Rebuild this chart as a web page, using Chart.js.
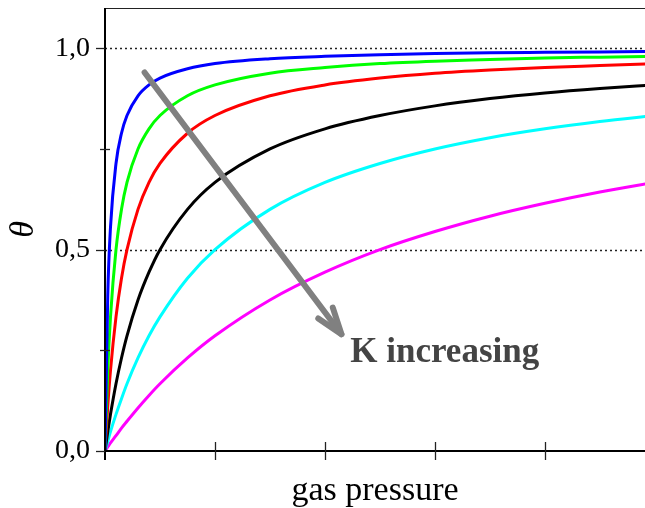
<!DOCTYPE html>
<html>
<head>
<meta charset="utf-8">
<script src="https://cdn.jsdelivr.net/npm/chart.js@4.4.1/dist/chart.umd.min.js"></script>
<style>
  html, body { margin: 0; padding: 0; background: #fff; }
  #isotherm { display: block; }
</style>
</head>
<body>
<canvas id="isotherm" width="645" height="508"></canvas>
<script>
// pressure samples shared by every isotherm
const pressure = [0, 0.025, 0.05, 0.1, 0.15, 0.2, 0.3, 0.4, 0.5, 0.75, 1, 1.5, 2, 2.5, 3, 3.5, 4, 4.5, 5];

// fractional coverage, one list per curve (largest K first)
const coverBlue    = [0, 0.385, 0.556, 0.714, 0.789, 0.833, 0.882, 0.909, 0.926, 0.949, 0.962, 0.974, 0.98, 0.984, 0.987, 0.989, 0.99, 0.991, 0.992];
const coverGreen   = [0, 0.2, 0.333, 0.5, 0.6, 0.667, 0.75, 0.8, 0.833, 0.882, 0.909, 0.938, 0.952, 0.962, 0.968, 0.972, 0.976, 0.978, 0.98];
const coverRed     = [0, 0.111, 0.2, 0.333, 0.429, 0.5, 0.6, 0.667, 0.714, 0.789, 0.833, 0.882, 0.909, 0.926, 0.938, 0.946, 0.952, 0.957, 0.962];
const coverBlack   = [0, 0.048, 0.091, 0.167, 0.231, 0.286, 0.375, 0.444, 0.5, 0.6, 0.667, 0.75, 0.8, 0.833, 0.857, 0.875, 0.889, 0.9, 0.909];
const coverCyan    = [0, 0.024, 0.048, 0.091, 0.13, 0.167, 0.231, 0.286, 0.333, 0.429, 0.5, 0.6, 0.667, 0.714, 0.75, 0.778, 0.8, 0.818, 0.833];
const coverMagenta = [0, 0.01, 0.02, 0.038, 0.057, 0.074, 0.107, 0.138, 0.167, 0.231, 0.286, 0.375, 0.444, 0.5, 0.545, 0.583, 0.615, 0.643, 0.667];

const curveColors = ['#0000ff', '#00ff00', '#ff0000', '#000000', '#00ffff', '#ff00ff'];

const yTicks = [0, 0.25, 0.5, 0.75, 1];
const yTickLabels = ['0,0', '', '0,5', '', '1,0'];
const xTicks = [0, 1, 2, 3, 4];
const dottedLevels = [0.5, 1];

// arrow "K increasing", in data units
const arrowFrom = { x: 0.36, y: 0.94 };
const arrowTo = { x: 2.15, y: 0.29 };
const arrowText = { x: 2.23, y: 0.221, text: 'K increasing' };

const serif = '"Liberation Serif", "Times New Roman", serif';

function toPoints(ys) {
  return pressure.map((p, i) => ({ x: p, y: ys[i] }));
}

function seg(ctx, x1, y1, x2, y2) {
  ctx.beginPath();
  ctx.moveTo(x1, y1);
  ctx.lineTo(x2, y2);
  ctx.stroke();
}

const framePlugin = {
  id: 'frame',
  beforeDatasetsDraw(chart) {
    const { ctx, chartArea: a, scales: { y } } = chart;
    ctx.save();
    ctx.strokeStyle = '#222';
    ctx.lineWidth = 1.3;
    ctx.setLineDash([2, 3]);
    dottedLevels.forEach(v => {
      const py = Math.round(y.getPixelForValue(v)) + 0.5;
      seg(ctx, a.left, py, a.right, py);
    });
    ctx.restore();
  },
  afterDatasetsDraw(chart) {
    const { ctx, chartArea: a, scales: { x, y } } = chart;
    ctx.save();

    // top edge of the frame
    ctx.strokeStyle = '#222';
    ctx.lineWidth = 1.2;
    seg(ctx, a.left, a.top + 0.5, a.right, a.top + 0.5);

    // axes
    ctx.strokeStyle = '#000';
    ctx.lineWidth = 2;
    const x0 = x.getPixelForValue(0);
    const y0 = y.getPixelForValue(0);
    seg(ctx, x0, a.top, x0, y0 + 9);
    seg(ctx, x0 - 1, y0, a.right, y0);

    // tick marks
    ctx.lineWidth = 1.3;
    ctx.strokeStyle = '#222';
    xTicks.forEach(v => {
      const px = Math.round(x.getPixelForValue(v)) + 0.5;
      if (v === 0) return;
      seg(ctx, px, y0 - 9, px, y0 + 9);
    });
    yTicks.forEach((v, i) => {
      const py = Math.round(y.getPixelForValue(v)) + 0.5;
      if (yTickLabels[i]) seg(ctx, x0 - 9, py, x0, py);
      else seg(ctx, x0 - 5, py, x0 + 5, py);
    });

    // arrow
    const sx = x.getPixelForValue(arrowFrom.x), sy = y.getPixelForValue(arrowFrom.y);
    const ex = x.getPixelForValue(arrowTo.x), ey = y.getPixelForValue(arrowTo.y);
    ctx.strokeStyle = '#808080';
    ctx.lineWidth = 6;
    ctx.lineCap = 'round';
    ctx.lineJoin = 'round';
    seg(ctx, sx, sy, ex, ey);
    const ang = Math.atan2(ey - sy, ex - sx);
    const head = 28, spread = 0.33;
    ctx.beginPath();
    ctx.moveTo(ex - head * Math.cos(ang - spread), ey - head * Math.sin(ang - spread));
    ctx.lineTo(ex, ey);
    ctx.lineTo(ex - head * Math.cos(ang + spread), ey - head * Math.sin(ang + spread));
    ctx.stroke();

    ctx.fillStyle = '#444';
    ctx.font = 'bold 35px ' + serif;
    ctx.textAlign = 'left';
    ctx.textBaseline = 'alphabetic';
    ctx.fillText(arrowText.text, x.getPixelForValue(arrowText.x), y.getPixelForValue(arrowText.y));

    ctx.restore();
  }
};

Chart.defaults.color = '#000';
Chart.defaults.font.family = serif;

const datasets = [coverBlue, coverGreen, coverRed, coverBlack, coverCyan, coverMagenta].map((ys, i) => ({
  data: toPoints(ys),
  borderColor: curveColors[i],
  borderWidth: 3,
  pointRadius: 0,
  fill: false,
  cubicInterpolationMode: 'monotone'
}));

new Chart(document.getElementById('isotherm'), {
  type: 'line',
  data: { datasets },
  options: {
    responsive: false,
    animation: false,
    devicePixelRatio: 1,
    layout: { padding: { top: 8, right: 0, left: 0, bottom: 0 } },
    plugins: { legend: { display: false }, tooltip: { enabled: false } },
    scales: {
      x: {
        type: 'linear',
        min: 0,
        max: 4.91,
        grid: { display: false, drawTicks: false },
        border: { display: false },
        ticks: { display: false },
        afterBuildTicks: s => { s.ticks = xTicks.map(v => ({ value: v })); },
        afterFit: s => { s.height = 57; s.paddingLeft = 0; s.paddingRight = 0; },
        title: {
          display: true,
          text: 'gas pressure',
          font: { size: 34, family: serif, lineHeight: 1 },
          padding: { top: 0, bottom: 0 }
        }
      },
      y: {
        min: 0,
        max: 1.1,
        grid: { display: false, drawTicks: false },
        border: { display: false },
        afterBuildTicks: s => { s.ticks = yTicks.map(v => ({ value: v })); },
        afterFit: s => { s.width = 105; s.paddingTop = 0; s.paddingBottom = 0; },
        ticks: {
          padding: 15,
          font: { size: 28, family: serif },
          callback: (v, i) => yTickLabels[i]
        },
        title: {
          display: true,
          text: 'θ',
          font: { size: 34, family: serif, style: 'italic', lineHeight: 1 },
          padding: { top: 7, bottom: 0 }
        }
      }
    }
  },
  plugins: [framePlugin]
});
</script>
</body>
</html>
